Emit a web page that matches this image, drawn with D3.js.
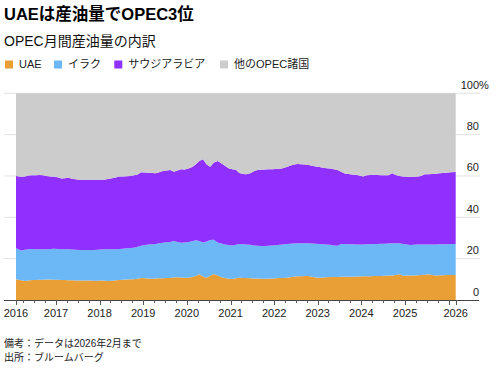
<!DOCTYPE html>
<meta charset="utf-8">
<style>
  body { margin: 0; background: #fff; }
  svg { font-family: "Liberation Sans", Arial, "Noto Sans CJK JP", sans-serif; }
</style>
<script src="https://d3js.org/d3.v7.min.js"></script>
<div id="chart"></div>
<script>
// monthly shares (%) of OPEC crude output, Feb 2016 .. Feb 2026
var uae = [10.0,9.5,9.2,9.4,9.7,9.7,9.8,9.8,9.9,9.9,9.8,9.8,9.7,9.7,9.6,9.5,9.4,9.4,9.4,9.4,
  9.4,9.3,9.3,9.4,9.3,9.2,9.3,9.5,9.7,9.8,9.9,10.0,10.0,10.3,10.6,10.5,10.4,10.3,10.4,10.5,
  10.5,10.6,10.7,10.9,11.0,10.9,10.8,10.8,11.1,11.6,12.4,11.4,10.8,11.7,12.6,11.8,11.0,10.6,10.3,10.2,
  10.5,10.8,10.7,10.6,10.5,10.4,10.4,10.3,10.3,10.3,10.4,10.5,10.6,10.7,10.8,11.0,11.3,11.5,11.5,11.6,
  11.6,11.3,10.9,10.8,10.9,11.0,11.1,11.1,11.1,11.2,11.2,11.3,11.3,11.4,11.4,11.5,11.5,11.5,11.6,11.6,
  11.6,11.7,11.8,11.9,12.1,12.4,11.7,11.8,11.9,11.9,12.0,12.1,12.2,12.4,12.1,11.9,12.0,12.0,12.1,12.1,
  12.1];
var iraq = [15.0,14.5,15.1,15.1,15.0,14.9,14.7,14.7,14.7,14.8,15.0,14.9,14.9,14.8,14.9,14.9,14.9,14.8,14.8,14.8,
  14.8,14.9,15.0,15.0,15.2,15.3,15.3,15.1,15.0,15.0,15.1,15.2,15.3,15.5,15.6,16.1,16.4,16.7,16.7,16.9,
  17.2,17.3,17.4,17.7,17.0,16.8,17.0,17.2,17.3,17.3,16.2,16.4,17.5,17.3,16.6,16.0,16.3,16.2,16.3,16.2,
  16.2,16.3,16.3,16.2,16.2,16.0,15.8,15.8,15.8,15.9,16.0,16.0,16.1,16.2,16.3,16.2,16.0,15.9,15.9,15.8,
  15.8,16.0,16.3,16.3,16.1,15.9,15.6,15.3,15.2,15.9,15.9,15.7,15.7,15.5,15.5,15.4,15.5,15.5,15.5,15.5,
  15.6,15.5,15.5,15.5,15.3,15.0,15.4,15.0,14.7,14.8,14.8,14.8,14.7,14.5,14.8,15.0,15.0,15.0,14.9,15.0,
  15.0];
var saudi = [35.0,35.6,35.5,35.7,35.6,35.8,36.0,35.8,35.4,35.0,34.8,34.7,34.2,34.4,34.7,34.2,34.1,34.0,33.9,33.9,
  33.8,33.9,33.8,33.7,33.8,34.0,34.3,34.7,35.0,35.0,34.9,34.8,35.0,34.9,35.6,35.1,34.8,34.5,34.2,34.4,
  34.7,34.8,34.8,33.4,34.6,35.5,35.3,35.6,35.9,36.6,38.6,40.3,37.2,35.5,37.3,39.5,38.9,38.2,37.1,36.9,
  36.3,34.3,33.9,34.0,34.6,35.9,36.7,36.9,37.0,37.0,36.9,36.9,36.8,36.8,37.2,37.7,38.2,38.4,38.3,38.1,
  37.9,37.7,37.4,37.2,37.0,36.9,36.9,36.8,36.6,34.9,34.1,33.9,33.7,33.7,33.3,32.8,33.3,33.5,33.4,33.4,
  33.2,33.1,33.1,33.9,33.1,32.6,32.7,32.8,32.9,32.9,33.0,33.1,33.9,33.9,34.1,34.2,34.3,34.5,34.6,34.7,
  34.8];
var others = [40.0,40.4,40.2,39.8,39.7,39.6,39.5,39.7,40.0,40.3,40.4,40.6,41.2,41.1,40.8,41.4,41.6,41.8,41.9,41.9,
  42.0,41.9,41.9,41.9,41.7,41.5,41.1,40.7,40.3,40.2,40.1,40.0,39.7,39.3,38.2,38.3,38.4,38.5,38.7,38.2,
  37.6,37.3,37.1,38.0,37.4,36.8,36.9,36.4,35.7,34.5,32.8,31.9,34.5,35.5,33.5,32.7,33.8,35.0,36.3,36.7,
  37.0,38.6,39.1,39.2,38.7,37.7,37.1,37.0,36.9,36.8,36.7,36.6,36.5,36.3,35.7,35.1,34.5,34.2,34.3,34.5,
  34.7,35.0,35.4,35.7,36.0,36.2,36.4,36.8,37.1,38.0,38.8,39.1,39.3,39.4,39.8,40.3,39.7,39.5,39.5,39.5,
  39.6,39.7,39.6,38.7,39.5,40.0,40.2,40.4,40.5,40.4,40.2,40.0,39.2,39.2,39.0,38.9,38.7,38.5,38.4,38.2,
  38.1];

var seriesKeys = ["uae", "iraq", "saudi", "others"];
var seriesNames = ["UAE", "イラク", "サウジアラビア", "他のOPEC諸国"];
var seriesColors = ["#E99E36", "#6CB8F7", "#8F30FF", "#CCCCCC"];
var yTicks = [0, 20, 40, 60, 80, 100];
var yearLabels = ["2016","2017","2018","2019","2020","2021","2022","2023","2024","2025","2026"];

var months = d3.timeMonth.range(new Date(2016, 1, 1), new Date(2026, 2, 1));
var rows = months.map(function (d, i) {
  return { date: d, uae: uae[i], iraq: iraq[i], saudi: saudi[i], others: others[i] };
});

var W = 499, H = 371;
var plotLeft = 16, plotRight = 455.7, plotTop = 93.3, plotBottom = 300;

var svg = d3.select("#chart").append("svg")
  .attr("width", W).attr("height", H);

// titles
svg.append("text").attr("x", 4).attr("y", 19.5)
  .attr("font-size", 16.5).attr("font-weight", "bold").attr("fill", "#000")
  .text("UAEは産油量でOPEC3位");
svg.append("text").attr("x", 4).attr("y", 45.5)
  .attr("font-size", 14).attr("fill", "#111")
  .text("OPEC月間産油量の内訳");

// legend
var legX = [5, 54, 114.3, 220];
var leg = svg.append("g");
seriesNames.forEach(function (n, i) {
  leg.append("rect").attr("x", legX[i]).attr("y", 60.5)
    .attr("width", 8).attr("height", 8).attr("fill", seriesColors[i]);
  leg.append("text").attr("x", legX[i] + 14).attr("y", 68)
    .attr("font-size", 11).attr("fill", "#222").text(n);
});

var x = d3.scaleTime()
  .domain([new Date(2016, 1, 1), new Date(2026, 2, 1)])
  .range([plotLeft, plotRight]);
var y = d3.scaleLinear().domain([0, 100]).range([plotBottom, plotTop]);

// gridlines
svg.append("g").selectAll("line")
  .data(yTicks.filter(function (d) { return d > 0; }))
  .enter().append("line")
    .attr("x1", 4).attr("x2", 480)
    .attr("y1", function (d) { return y(d); })
    .attr("y2", function (d) { return y(d); })
    .attr("stroke", "#e2e2e2").attr("stroke-width", 1);

// stacked areas
var stack = d3.stack().keys(seriesKeys);
var layers = stack(rows);
var last = rows.length - 1;
var area = d3.area()
  .x(function (d, i) {
    if (i === 0) return x.range()[0];
    if (i === last) return x.range()[1];
    return x(d3.timeDay.offset(d.data.date, 14));
  })
  .y0(function (d) { return y(d[0]); })
  .y1(function (d) { return y(d[1]); });

svg.append("g").selectAll("path")
  .data(layers)
  .enter().append("path")
    .attr("d", area)
    .attr("fill", function (d, i) { return seriesColors[i]; });

// y labels
var yl = svg.append("g").attr("font-size", 11).attr("fill", "#222");
yTicks.forEach(function (t) {
  yl.append("text").attr("x", 479).attr("y", y(t) - 4.5)
    .attr("text-anchor", "end").text(t);
  if (t === 100) {
    yl.append("text").attr("x", 479).attr("y", y(t) - 4.5).text("%");
  }
});

// x axis
svg.append("line").attr("x1", 4).attr("x2", 479)
  .attr("y1", plotBottom + 0.5).attr("y2", plotBottom + 0.5)
  .attr("stroke", "#444").attr("stroke-width", 1);

var ticks = d3.timeMonth.every(3).range(new Date(2016, 3, 1), new Date(2026, 2, 1));
svg.append("g").selectAll("line")
  .data(ticks)
  .enter().append("line")
    .attr("x1", function (d) { return Math.round(x(d)) + 0.5; })
    .attr("x2", function (d) { return Math.round(x(d)) + 0.5; })
    .attr("y1", plotBottom)
    .attr("y2", function (d) { return plotBottom + (d.getMonth() === 0 ? 5 : 3); })
    .attr("stroke", "#555");
[plotLeft, plotRight].forEach(function (px) {
  svg.append("line").attr("x1", Math.round(px) + 0.5).attr("x2", Math.round(px) + 0.5)
    .attr("y1", plotBottom).attr("y2", plotBottom + 5).attr("stroke", "#555");
});

var xl = svg.append("g").attr("font-size", 11).attr("fill", "#222")
  .attr("text-anchor", "middle");
yearLabels.forEach(function (lab, i) {
  var px;
  if (i === 0) px = plotLeft;
  else if (i === yearLabels.length - 1) px = plotRight;
  else px = x(new Date(+lab, 0, 1));
  xl.append("text").attr("x", px).attr("y", 317).text(lab);
});

// notes
svg.append("text").attr("x", 4).attr("y", 346.5)
  .attr("font-size", 10).attr("fill", "#222").text("備考：データは2026年2月まで");
svg.append("text").attr("x", 4).attr("y", 360.5)
  .attr("font-size", 10).attr("fill", "#222").text("出所：ブルームバーグ");
</script>
